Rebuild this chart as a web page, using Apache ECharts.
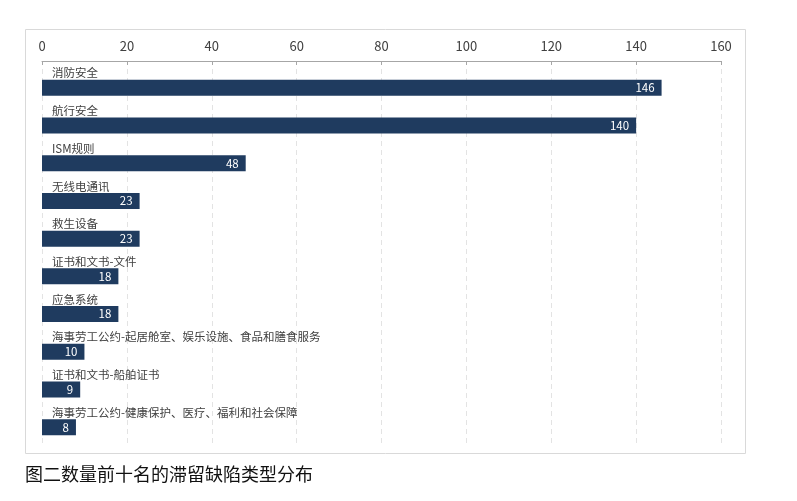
<!DOCTYPE html>
<html lang="zh">

<head>
    <meta charset="UTF-8">
    <title>滞留缺陷类型分布</title>
    <style>
        html, body { margin: 0; padding: 0; background: #fff; }
        #chart { width: 797px; height: 501px; }
    </style>
</head>

<body>
    <div id="chart"></div>
</body>
<script src="https://cdn.jsdelivr.net/npm/echarts@6/dist/echarts.min.js"></script>

<script>
    // 缺陷类型和数量
    var categories = ['消防安全', '航行安全', 'ISM规则', '无线电通讯', '救生设备', '证书和文书-文件', '应急系统',
        '海事劳工公约-起居舱室、娱乐设施、食品和膳食服务', '证书和文书-船舶证书', '海事劳工公约-健康保护、医疗、福利和社会保障']
    var counts = [146, 140, 48, 23, 23, 18, 18, 10, 9, 8]
    var ticks = [0, 20, 40, 60, 80, 100, 120, 140, 160]

    var font = '"Noto Sans CJK SC", "Noto Sans", sans-serif'
    var myChart = echarts.init(document.getElementById('chart'))

    option = {
        animation: false,
        textStyle: { fontFamily: font },
        title: {
            text: '图二数量前十名的滞留缺陷类型分布',
            left: 20,
            top: 460,
            textStyle: { fontSize: 18, fontWeight: 'normal', color: '#111', fontFamily: font }
        },
        graphic: [{
            type: 'rect',
            shape: { x: 25.5, y: 29.5, width: 720, height: 424 },
            style: { fill: 'none', stroke: '#d9d9d9', lineWidth: 1 },
            silent: true
        }],
        grid: { left: 42, right: 76, top: 69, height: 377 },
        xAxis: {
            type: 'value',
            position: 'top',
            offset: 8,
            min: ticks[0],
            max: ticks[ticks.length - 1],
            interval: 20,
            axisLine: { show: true, lineStyle: { color: '#a6a6a6' } },
            axisTick: { show: true, inside: true, length: 4, lineStyle: { color: '#a6a6a6' } },
            axisLabel: { color: '#404040', fontSize: 13, margin: 8, fontFamily: font },
            splitLine: { show: true, lineStyle: { color: '#e3e3e3', type: [5, 4] } }
        },
        yAxis: {
            type: 'category',
            inverse: true,
            data: categories,
            axisLine: { show: false },
            axisTick: { show: false },
            axisLabel: {
                inside: true,
                margin: 10,
                align: 'left',
                verticalAlign: 'bottom',
                padding: [0, 0, 9, 0],
                color: '#404040',
                fontSize: 11.5,
                fontFamily: font
            }
        },
        series: [{
            type: 'bar',
            data: counts,
            barWidth: 16,
            itemStyle: { color: '#1f3b5f' },
            label: {
                show: true,
                position: 'insideRight',
                distance: 7,
                color: '#fff',
                fontSize: 11.5,
                fontWeight: 'normal',
                fontFamily: font
            }
        }]
    }
    myChart.setOption(option)
</script>

</html>
